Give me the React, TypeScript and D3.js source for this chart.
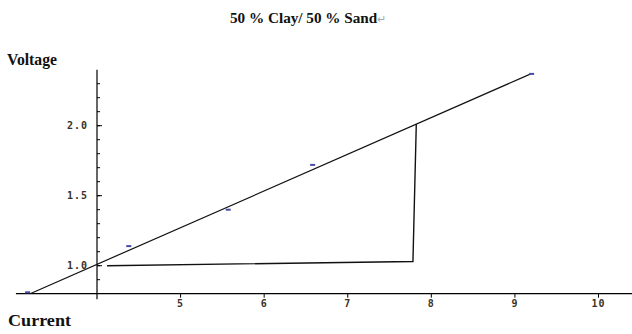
import React from "react";
import * as d3 from "d3";

const pointX = [3.17, 4.38, 5.57, 6.58, 9.2];
const pointY = [0.81, 1.14, 1.4, 1.72, 2.37];
const fitX = [3.2, 9.19];
const fitY = [0.8, 2.37];
const triX = [4.12, 7.78, 7.82];
const triY = [1.0, 1.03, 2.01];
const xTicks = [5, 6, 7, 8, 9, 10];
const yMajor = [1.0, 1.5, 2.0];
const yMinor = [0.9, 1.0, 1.1, 1.2, 1.3, 1.4, 1.5, 1.6, 1.7, 1.8, 1.9, 2.0, 2.1, 2.2, 2.3];

export default function App() {
  const W = 632, H = 334;
  const x = d3.scaleLinear().domain([4, 10]).range([97, 598.5]);
  const y = d3.scaleLinear().domain([1, 2]).range([265.7, 125.7]);
  const ox = 4, oy = 0.8;
  const line = d3.line<[number, number]>().x(d => x(d[0])).y(d => y(d[1]));
  const fitPts: [number, number][] = fitX.map((v, i) => [v, fitY[i]]);
  const triPts: [number, number][] = triX.map((v, i) => [v, triY[i]]);
  const tickFont = "'DejaVu Sans Mono', monospace";
  const tickColor = "#3a3226";
  return (
    <svg width={W} height={H} style={{ position: "absolute", left: 0, top: 0, background: "#fff" }}
      fontFamily="'Liberation Serif', serif">
      <text x={230} y={23} fontSize={15.2} fontWeight="bold" fill="#111">
        50 % Clay/ 50 % Sand<tspan fill="#aaa" fontWeight="normal" fontSize={11}>↵</tspan>
      </text>
      <text x={7} y={65} fontSize={17} fontWeight="bold" fill="#111"
        textLength={50} lengthAdjust="spacingAndGlyphs">Voltage</text>
      <text x={8} y={326} fontSize={17.5} fontWeight="bold" fill="#111"
        textLength={63} lengthAdjust="spacingAndGlyphs">Current</text>

      {/* axes */}
      <line x1={x(3.03)} x2={632} y1={y(oy)} y2={y(oy)} stroke="#000" strokeWidth={1.2} />
      <line x1={x(ox)} x2={x(ox)} y1={y(2.4)} y2={y(0.76)} stroke="#000" strokeWidth={1.2} />
      {xTicks.map(t => (
        <g key={"xt" + t}>
          <line x1={x(t)} x2={x(t)} y1={y(oy)} y2={y(oy) + 4} stroke="#000" strokeWidth={1} />
          <text x={x(t)} y={y(oy) + 13.5} fontSize={10} fontFamily={tickFont} fontWeight="bold"
            textAnchor="middle" letterSpacing={1} fill={tickColor}>{t}</text>
        </g>
      ))}
      {yMinor.map(t => (
        <line key={"ym" + t} x1={x(ox)} x2={x(ox) + 3} y1={y(t)} y2={y(t)} stroke="#000" strokeWidth={1} />
      ))}
      {yMajor.map(t => (
        <g key={"yt" + t}>
          <line x1={x(ox)} x2={x(ox) + 5} y1={y(t)} y2={y(t)} stroke="#000" strokeWidth={1} />
          <text x={88} y={y(t) + 3.5} fontSize={10} fontFamily={tickFont} fontWeight="bold"
            textAnchor="end" letterSpacing={1} fill={tickColor}>{t.toFixed(1)}</text>
        </g>
      ))}

      <path d={line(fitPts) || ""} fill="none" stroke="#111" strokeWidth={1.2} />
      <path d={line(triPts) || ""} fill="none" stroke="#111" strokeWidth={1.4} />

      {pointX.map((v, i) => (
        <rect key={"p" + i} x={x(v) - 2.5} y={y(pointY[i]) - 1} width={5} height={2} fill="#4a4aa8" />
      ))}
    </svg>
  );
}
